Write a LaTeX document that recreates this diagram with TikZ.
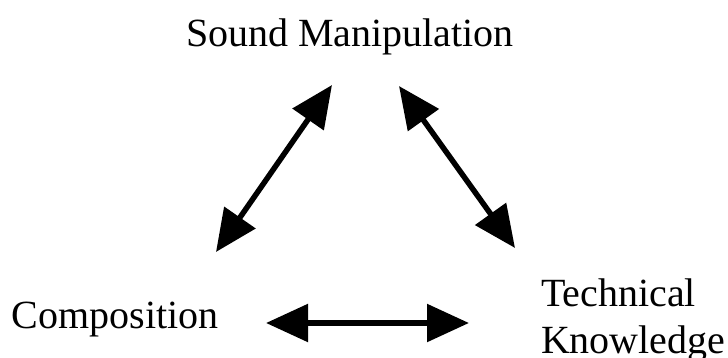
\documentclass[tikz,border=0pt]{standalone}
\usepackage{fontspec}
\setmainfont{Liberation Serif}
\usetikzlibrary{arrows.meta}
\begin{document}
\begin{tikzpicture}[x=1pt,y=-1pt,
  lbl/.style={inner sep=0pt, outer sep=0pt, anchor=base west, font=\fontsize{40}{46}\selectfont},
  dbl/.style={line width=5.5pt, {Triangle[length=42pt,width=37pt]}-{Triangle[length=42pt,width=37pt]}}]
\useasboundingbox (0,0) rectangle (728,358);
\node[lbl] (sm) at (186,47) {Sound Manipulation};
\node[lbl] (co) at (12,328) {Composition};
\node[lbl] (te) at (541,306) {Technical};
\node[lbl] (kn) at (541,353) {Knowledge};
\coordinate (a1) at (216,252);
\coordinate (a2) at (332,85);
\coordinate (b1) at (399,86);
\coordinate (b2) at (515,248);
\coordinate (c1) at (266,323);
\coordinate (c2) at (469,323);
\draw[dbl] (a1) -- (a2);
\draw[dbl] (b1) -- (b2);
\draw[dbl] (c1) -- (c2);
\end{tikzpicture}
\end{document}
